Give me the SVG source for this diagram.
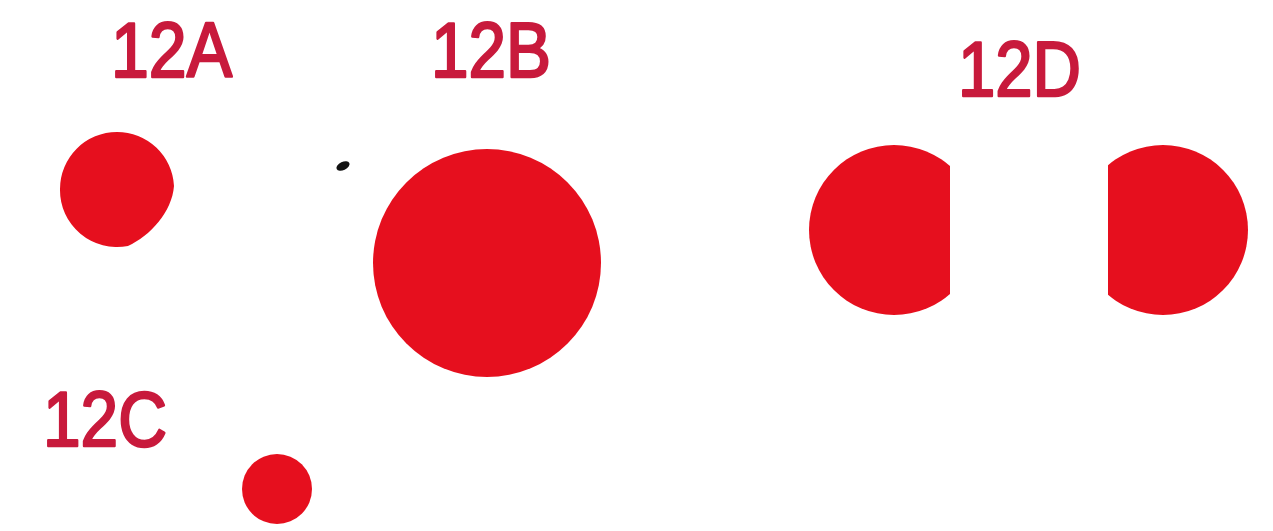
<svg xmlns="http://www.w3.org/2000/svg" width="1273" height="531" viewBox="0 0 1273 531">
<defs>
<style>
.lbl{font-family:"Liberation Sans",Arial,sans-serif;font-weight:normal;font-size:78px;fill:#c81a3c;stroke:#c81a3c;stroke-width:2.5px;stroke-linejoin:round}
.dot{fill:#e60f1e}
</style>
<clipPath id="clipL"><rect x="780" y="130" width="170" height="200"/></clipPath>
<clipPath id="clipR"><rect x="1108" y="130" width="160" height="200"/></clipPath>
</defs>
<rect width="1273" height="531" fill="#ffffff"/>
<g id="n12A">
<text class="lbl" x="111" y="77" textLength="121" lengthAdjust="spacingAndGlyphs">12A</text>
<path class="dot" d="M 117 132 A 57 57 0 0 1 174 186 C 172 212 150 236 128 246 A 57 57 0 0 1 60 189 A 57 57 0 0 1 117 132 Z"/>
</g>
<g id="n12B">
<text class="lbl" x="431" y="77" textLength="120" lengthAdjust="spacingAndGlyphs">12B</text>
<circle class="dot" cx="487" cy="263" r="114"/>
</g>
<g id="n12C">
<text class="lbl" x="43" y="446" textLength="124" lengthAdjust="spacingAndGlyphs">12C</text>
<circle class="dot" cx="277" cy="489" r="35"/>
</g>
<g id="n12D">
<text class="lbl" x="958" y="96" textLength="123" lengthAdjust="spacingAndGlyphs">12D</text>
<circle class="dot" cx="894" cy="230" r="85" clip-path="url(#clipL)"/>
<circle class="dot" cx="1163" cy="230" r="85" clip-path="url(#clipR)"/>
</g>
<g id="speck">
<ellipse cx="343" cy="166" rx="7" ry="4" transform="rotate(-25 343 166)" fill="#111111"/>
</g>
<g id="connectors"></g>
</svg>
